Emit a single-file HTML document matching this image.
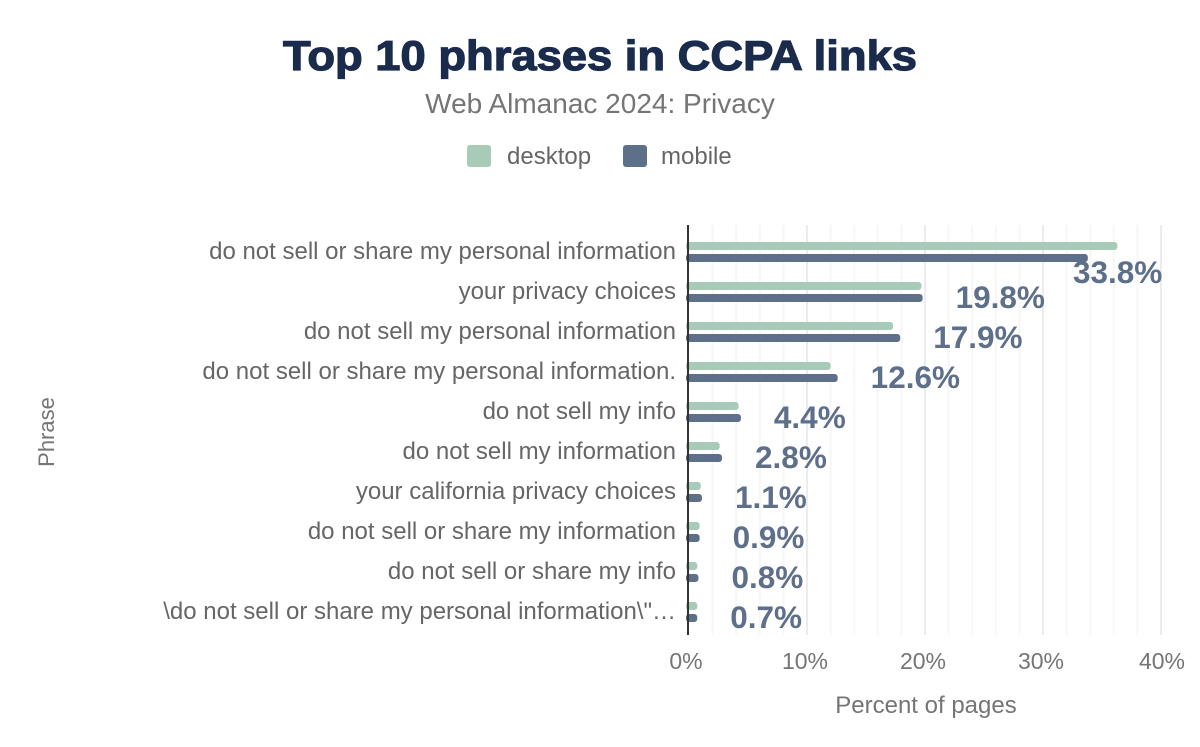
<!DOCTYPE html>
<html><head><style>
body{margin:0;background:#fff;width:1200px;height:742px;overflow:hidden;font-family:"Liberation Sans",sans-serif}
</style></head><body>
<svg width="1200" height="742" xmlns="http://www.w3.org/2000/svg" font-family="Liberation Sans, sans-serif">
<text x="600" y="70" text-anchor="middle" font-size="42" font-weight="900" fill="#1a2b4c" textLength="634" lengthAdjust="spacingAndGlyphs" stroke="#1a2b4c" stroke-width="1.2">Top 10 phrases in CCPA links</text>
<text x="600" y="113" text-anchor="middle" font-size="28" fill="#757575">Web Almanac 2024: Privacy</text>
<rect x="467" y="145" width="24" height="22" rx="3" fill="#a8cbb9"/>
<text x="507" y="164" font-size="24" fill="#666">desktop</text>
<rect x="623" y="145" width="24" height="22" rx="3" fill="#5e6f8a"/>
<text x="661" y="164" font-size="24" fill="#666">mobile</text>
<g id="grid"></g>
<text transform="translate(54,432) rotate(-90)" text-anchor="middle" font-size="22" fill="#757575">Phrase</text>
<text x="926" y="713" text-anchor="middle" font-size="24" fill="#757575">Percent of pages</text>
<g font-size="23" fill="#757575" text-anchor="middle">
<text x="686" y="669">0%</text><text x="805" y="669">10%</text><text x="923" y="669">20%</text><text x="1041" y="669">30%</text><text x="1162" y="669">40%</text>
</g>
<g id="bars"></g>
<rect x="687" y="225" width="2" height="410" fill="#333"/>
</svg>
<script>
const ns="http://www.w3.org/2000/svg";
const g=document.getElementById('grid'),b=document.getElementById('bars');
function el(p,t,a,txt){const e=document.createElementNS(ns,t);for(const k in a)e.setAttribute(k,a[k]);if(txt)e.textContent=txt;p.appendChild(e);return e;}
for(let i=1;i<=20;i++){const x=689+i*11.8*2;el(g,'rect',{x:x-1,y:225,width:2,height:410,fill:i%5==0?'#ececec':'#f6f6f6'});}
const rows=[["do not sell or share my personal information",36.3,33.8],["your privacy choices",19.7,19.8],["do not sell my personal information",17.3,17.9],["do not sell or share my personal information.",12.0,12.6],["do not sell my info",4.2,4.4],["do not sell my information",2.6,2.8],["your california privacy choices",1.0,1.1],["do not sell or share my information",0.9,0.9],["do not sell or share my info",0.7,0.8],["\\do not sell or share my personal information\\\"…",0.7,0.7]];
rows.forEach((r,i)=>{const c=252+i*40;
el(b,'text',{x:676,y:c+7,'text-anchor':'end','font-size':24,fill:'#666'},r[0]);
const wd=r[1]*11.8,wm=r[2]*11.8;
el(b,'rect',{x:686,y:c-10,width:wd+3,height:8,rx:3,fill:'#a8cbb9'});
el(b,'rect',{x:686,y:c+2,width:wm+3,height:8,rx:3,fill:'#5e6f8a'});
let lx=689+wm+33,ly=c+16;if(i==0){lx=1073;ly=c+31;}
el(b,'text',{x:lx,y:ly,'font-size':31.5,'font-weight':'bold',fill:'#5e6f8a'},r[2].toFixed(1)+'%');
});
</script>
</body></html>
